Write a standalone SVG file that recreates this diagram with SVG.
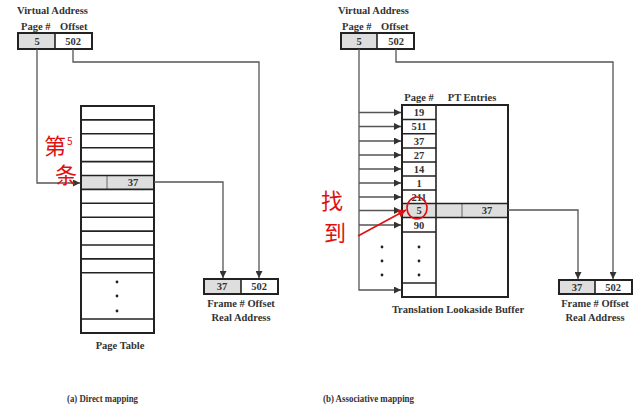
<svg xmlns="http://www.w3.org/2000/svg" width="634" height="415" viewBox="0 0 634 415">
<defs>
<marker id="arr" viewBox="0 0 8 8" refX="8" refY="4" markerWidth="7" markerHeight="7" orient="auto" markerUnits="userSpaceOnUse"><path d="M0,0 L8,4 L0,8 Z" fill="#333"/></marker>
<marker id="rarr" viewBox="0 0 8 8" refX="8" refY="4" markerWidth="8" markerHeight="8" orient="auto" markerUnits="userSpaceOnUse"><path d="M0,0 L8,4 L0,8 Z" fill="#e01010"/></marker>
</defs>
<style>
text{font-family:"Liberation Serif",serif;font-weight:bold;fill:#333;font-size:10.5px}
.c{text-anchor:middle}
.box{fill:#fff;stroke:#222;stroke-width:2}
.rl{stroke:#222;stroke-width:1.6}
.div{stroke:#666;stroke-width:1}
.conn{fill:none;stroke:#555;stroke-width:1.3}
.dot{fill:#222}
text.red{fill:#e01010;font-family:"Noto Sans CJK SC",sans-serif;font-weight:normal}
</style>
<rect width="634" height="415" fill="#fff"/>

<!-- LEFT: Direct mapping -->
<g id="va-left">
<text x="17" y="14">Virtual Address</text>
<text x="21" y="30">Page #</text><text x="60" y="30">Offset</text>
<rect x="18" y="33" width="74" height="16" class="box"/>
<rect x="19" y="34" width="36" height="14" fill="#dedede"/>
<line x1="55" y1="33" x2="55" y2="49" class="rl"/>
<text x="37" y="45" class="c">5</text><text x="73" y="45" class="c">502</text>
</g>

<g id="page-table">
<rect x="81" y="106" width="73" height="227" class="box"/>
<rect x="82" y="176" width="71" height="13.5" fill="#dedede"/>
<line x1="107" y1="176" x2="107" y2="189.5" class="div"/>
<g class="rl">
<line x1="81" y1="119.9" x2="154" y2="119.9"/>
<line x1="81" y1="133.8" x2="154" y2="133.8"/>
<line x1="81" y1="147.7" x2="154" y2="147.7"/>
<line x1="81" y1="161.6" x2="154" y2="161.6"/>
<line x1="81" y1="175.5" x2="154" y2="175.5"/>
<line x1="81" y1="189.4" x2="154" y2="189.4"/>
<line x1="81" y1="203.3" x2="154" y2="203.3"/>
<line x1="81" y1="217.2" x2="154" y2="217.2"/>
<line x1="81" y1="231.1" x2="154" y2="231.1"/>
<line x1="81" y1="245" x2="154" y2="245"/>
<line x1="81" y1="258.9" x2="154" y2="258.9"/>
<line x1="81" y1="272.8" x2="154" y2="272.8"/>
<line x1="81" y1="319" x2="154" y2="319"/>
</g>
<text x="133" y="186" class="c">37</text>
<circle cx="117" cy="282" r="1.4" class="dot"/><circle cx="117" cy="296" r="1.4" class="dot"/><circle cx="117" cy="311" r="1.4" class="dot"/>
<text x="120" y="349" class="c">Page Table</text>
</g>

<g id="ra-left">
<rect x="204" y="279" width="74" height="15" class="box"/>
<rect x="205" y="280" width="36" height="13" fill="#dedede"/>
<line x1="241" y1="279" x2="241" y2="294" class="rl"/>
<text x="222" y="290" class="c">37</text><text x="259" y="290" class="c">502</text>
<text x="241" y="307" class="c">Frame # Offset</text>
<text x="241" y="321" class="c">Real Address</text>
</g>

<text x="67" y="402" textLength="71" lengthAdjust="spacingAndGlyphs">(a) Direct mapping</text>

<!-- RIGHT: Associative mapping -->
<g id="va-right">
<text x="338" y="14">Virtual Address</text>
<text x="342" y="30">Page #</text><text x="381" y="30">Offset</text>
<rect x="341" y="33" width="73" height="16" class="box"/>
<rect x="342" y="34" width="35" height="14" fill="#dedede"/>
<line x1="377" y1="33" x2="377" y2="49" class="rl"/>
<text x="359" y="45" class="c">5</text><text x="396" y="45" class="c">502</text>
</g>

<g id="tlb">
<text x="419" y="101" class="c">Page #</text>
<text x="472" y="101" class="c">PT Entries</text>
<rect x="402" y="105" width="106" height="192" class="box"/>
<rect x="403" y="203.5" width="104" height="14" fill="#dedede"/>
<line x1="462" y1="203.5" x2="462" y2="217.5" class="div"/>
<line x1="436" y1="105" x2="436" y2="297" class="rl"/>
<line x1="436" y1="203.5" x2="508" y2="203.5" class="rl"/>
<line x1="436" y1="217.5" x2="508" y2="217.5" class="rl"/>
<g class="rl">
<line x1="402" y1="119.5" x2="436" y2="119.5"/>
<line x1="402" y1="133.8" x2="436" y2="133.8"/>
<line x1="402" y1="148" x2="436" y2="148"/>
<line x1="402" y1="162" x2="436" y2="162"/>
<line x1="402" y1="176" x2="436" y2="176"/>
<line x1="402" y1="190" x2="436" y2="190"/>
<line x1="402" y1="203.5" x2="436" y2="203.5"/>
<line x1="402" y1="217.5" x2="436" y2="217.5"/>
<line x1="402" y1="232" x2="436" y2="232"/>
<line x1="402" y1="283" x2="436" y2="283"/>
</g>
<text x="419" y="116" class="c">19</text>
<text x="419" y="130" class="c">511</text>
<text x="419" y="144.5" class="c">37</text>
<text x="419" y="158.5" class="c">27</text>
<text x="419" y="172.5" class="c">14</text>
<text x="419" y="186.5" class="c">1</text>
<text x="419" y="200.5" class="c">211</text>
<text x="419" y="214" class="c">5</text>
<text x="419" y="228.5" class="c">90</text>
<text x="487" y="214" class="c">37</text>
<circle cx="419" cy="247" r="1.4" class="dot"/><circle cx="419" cy="261" r="1.4" class="dot"/><circle cx="419" cy="275" r="1.4" class="dot"/>
<text x="458" y="313" class="c">Translation Lookaside Buffer</text>
</g>
<g id="dots-right">
<circle cx="382" cy="247" r="1.4" class="dot"/><circle cx="382" cy="261" r="1.4" class="dot"/><circle cx="382" cy="275" r="1.4" class="dot"/>
</g>

<g id="ra-right">
<rect x="559" y="280" width="73" height="14" class="box"/>
<rect x="560" y="281" width="35" height="12" fill="#dedede"/>
<line x1="595" y1="280" x2="595" y2="294" class="rl"/>
<text x="577" y="291" class="c">37</text><text x="613" y="291" class="c">502</text>
<text x="595" y="307" class="c">Frame # Offset</text>
<text x="595" y="321" class="c">Real Address</text>
</g>

<text x="323" y="402" textLength="91" lengthAdjust="spacingAndGlyphs">(b) Associative mapping</text>

<!-- connectors -->
<g id="connectors" class="conn">
<path d="M37,49 V183 H80" marker-end="url(#arr)"/>
<path d="M73,49 V62 H259 V278" marker-end="url(#arr)"/>
<path d="M154,182 H223 V278" marker-end="url(#arr)"/>
<path d="M359,49 V290 H401" marker-end="url(#arr)"/>
<path d="M359,112.5 H401" marker-end="url(#arr)"/>
<path d="M359,126.5 H401" marker-end="url(#arr)"/>
<path d="M359,141 H401" marker-end="url(#arr)"/>
<path d="M359,155 H401" marker-end="url(#arr)"/>
<path d="M359,169 H401" marker-end="url(#arr)"/>
<path d="M359,183 H401" marker-end="url(#arr)"/>
<path d="M359,197 H401" marker-end="url(#arr)"/>
<path d="M359,210.5 H401" marker-end="url(#arr)"/>
<path d="M359,225 H401" marker-end="url(#arr)"/>
<path d="M396,49 V62 H613 V279" marker-end="url(#arr)"/>
<path d="M508,210 H578 V279" marker-end="url(#arr)"/>
</g>

<!-- handwritten red annotations -->
<g id="annot-left">
<text x="44" y="154" class="red" style="font-size:22px">第</text>
<text x="67" y="145" class="red" style="font-size:10px">5</text>
<text x="55" y="183" class="red" style="font-size:22px">条</text>
</g>
<g id="annot-right">
<text x="321" y="209" class="red" style="font-size:22px">找</text>
<text x="324" y="241" class="red" style="font-size:22px">到</text>
<path d="M358,236 L406,210" fill="none" stroke="#e01010" stroke-width="1.6" marker-end="url(#rarr)"/>
<ellipse cx="417" cy="208" rx="10" ry="11" fill="none" stroke="#e01010" stroke-width="1.6"/>
</g>
</svg>
